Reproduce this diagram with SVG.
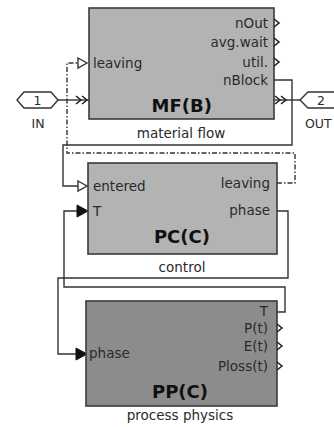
<svg xmlns="http://www.w3.org/2000/svg" width="334" height="427" viewBox="0 0 334 427">
<defs>
<style>
.blk{stroke:#3a3a3a;stroke-width:1.6}
.light{fill:#b3b3b3}
.dark{fill:#8c8c8c}
.lbl{font-family:"DejaVu Sans",Verdana,sans-serif;font-size:13.5px;fill:#2a2a2a}
.r{text-anchor:end}
.c{text-anchor:middle}
.title{font-family:"DejaVu Sans",Verdana,sans-serif;font-size:18px;font-weight:bold;fill:#111}
.cap{font-family:"DejaVu Sans",Verdana,sans-serif;font-size:13.5px;fill:#2a2a2a;text-anchor:middle}
.port{font-family:"DejaVu Sans",Verdana,sans-serif;font-size:12.5px;fill:#2a2a2a;text-anchor:middle}
.ln{fill:none;stroke:#333;stroke-width:1.4}
.dd{fill:none;stroke:#333;stroke-width:1.4;stroke-dasharray:5 2 1.5 2}
.open{fill:#fff;stroke:#333;stroke-width:1.4}
.fill{fill:#111;stroke:#111;stroke-width:1}
.outp{fill:none;stroke:#222;stroke-width:1.6}
.hex{fill:#fff;stroke:#333;stroke-width:1.4}
</style>
</defs>

<g id="connectors">
  <!-- IN to MF -->
  <line class="ln" x1="58" y1="100" x2="89" y2="100"/>
  <polyline class="outp" points="76,96 81,100 76,104"/>
  <polyline class="outp" points="82,96 87,100 82,104"/>
  <!-- MF to OUT -->
  <line class="ln" x1="274" y1="100" x2="300" y2="100"/>
  <polyline class="outp" points="275,96 280,100 275,104"/>
  <polyline class="outp" points="281,96 286,100 281,104"/>
  <!-- nBlock -> entered -->
  <polyline class="ln" points="274,80 292,80 292,145 63,145 63,186 78,186"/>
  <polygon class="open" points="78,181 87,186 78,191"/>
  <!-- PC leaving -> MF leaving (dash-dot) -->
  <polyline class="dd" points="277,183 295,183 295,153 67,153 67,63 78,63"/>
  <polygon class="open" points="78,58 87,63 78,68"/>
  <!-- PP T -> PC T -->
  <polyline class="ln" points="277,312 285,312 285,287 64,287 64,211 78,211"/>
  <polygon class="fill" points="77,205 88,211 77,217"/>
  <!-- PC phase -> PP phase -->
  <polyline class="ln" points="277,211 288,211 288,278 58,278 58,354 77,354"/>
  <polygon class="fill" points="76,348 87,354 76,360"/>
</g>

<g id="IN">
  <polygon class="hex" points="17,100 24,92 51,92 58,100 51,108 24,108"/>
  <text class="port" x="37.5" y="104.5">1</text>
  <text class="port" x="38" y="128">IN</text>
</g>

<g id="OUT">
  <polygon class="hex" points="300,100 308,92 336,92 344,100 336,108 308,108"/>
  <text class="port" x="321" y="104.5">2</text>
  <text class="lbl" x="305" y="128" style="font-size:12.5px">OUT</text>
</g>

<g id="MF">
  <rect class="blk light" x="89" y="8" width="185" height="111"/>
  <text class="lbl" x="93" y="68">leaving</text>
  <text class="lbl r" x="268" y="28">nOut</text>
  <text class="lbl r" x="268" y="47">avg.wait</text>
  <text class="lbl r" x="268" y="67">util.</text>
  <text class="lbl r" x="268" y="85">nBlock</text>
  <polyline class="outp" points="274,19 279,23 274,27"/>
  <polyline class="outp" points="274,38 279,42 274,46"/>
  <polyline class="outp" points="274,58 279,62 274,66"/>
  <text class="title" x="212" y="112" text-anchor="end">MF(B)</text>
  <text class="cap" x="181" y="138">material flow</text>
</g>

<g id="PC">
  <rect class="blk light" x="88" y="163" width="189" height="91"/>
  <text class="lbl" x="93" y="191">entered</text>
  <text class="lbl" x="93" y="216">T</text>
  <text class="lbl r" x="270" y="188">leaving</text>
  <text class="lbl r" x="270" y="215">phase</text>
  <text class="title" x="210" y="243" text-anchor="end">PC(C)</text>
  <text class="cap" x="182" y="272">control</text>
</g>

<g id="PP">
  <rect class="blk dark" x="86" y="301" width="191" height="105"/>
  <text class="lbl" x="89" y="358">phase</text>
  <text class="lbl r" x="268" y="316">T</text>
  <text class="lbl r" x="268" y="333">P(t)</text>
  <text class="lbl r" x="268" y="351">E(t)</text>
  <text class="lbl r" x="268" y="371">Ploss(t)</text>
  <polyline class="outp" points="277,324 282,328 277,332"/>
  <polyline class="outp" points="277,342 282,346 277,350"/>
  <polyline class="outp" points="277,362 282,366 277,370"/>
  <text class="title" x="208" y="398" text-anchor="end">PP(C)</text>
  <text class="cap" x="180" y="420">process physics</text>
</g>
</svg>
